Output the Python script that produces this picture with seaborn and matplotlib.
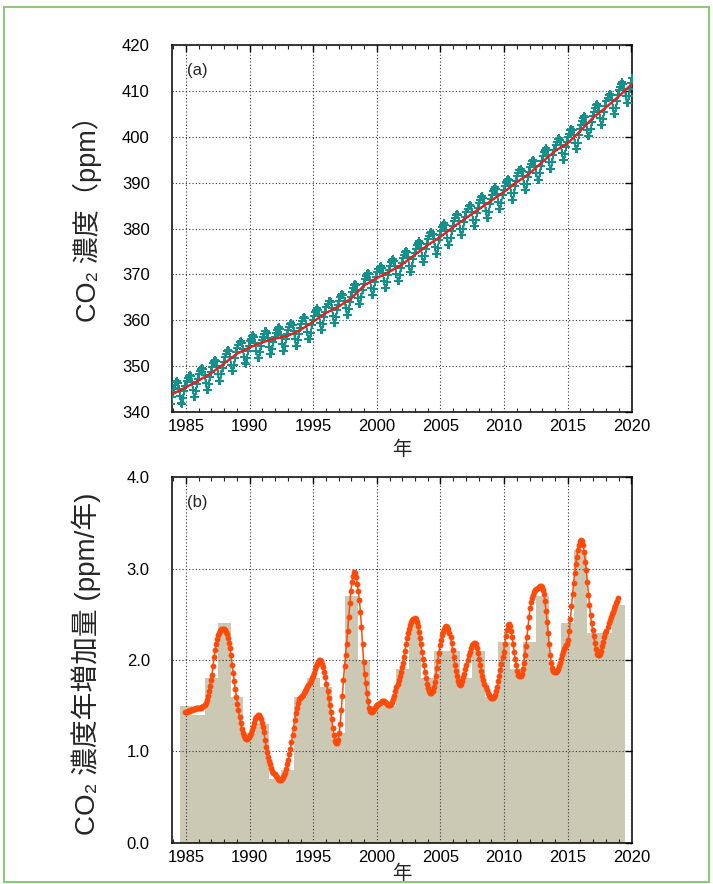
import matplotlib
matplotlib.use("Agg")
import matplotlib.pyplot as plt
from matplotlib.ticker import MultipleLocator, FormatStrFormatter
from matplotlib.patches import Rectangle
import numpy as np
import pandas as pd
import seaborn as sns

# ---------------------------------------------------------------- data
# (a) monthly mean CO2 concentration (ppm); Oct-Dec 1983, full years, Jan 2020
co2_1983_tail = [341.7, 343.2, 344.3]
co2_by_year = {
    1984: [345.3, 346.0, 346.5, 346.7, 346.3, 345.1, 343.4, 341.9, 341.8, 343.1, 344.6, 345.7],
    1985: [346.7, 347.4, 347.9, 348.1, 347.8, 346.6, 344.8, 343.3, 343.3, 344.6, 346.1, 347.2],
    1986: [348.2, 348.9, 349.4, 349.7, 349.3, 348.1, 346.4, 344.9, 344.8, 346.2, 347.7, 348.8],
    1987: [349.8, 350.6, 351.1, 351.4, 351.1, 350.0, 348.2, 346.8, 346.8, 348.2, 349.7, 350.9],
    1988: [351.9, 352.7, 353.2, 353.5, 353.2, 352.1, 350.3, 348.9, 348.9, 350.3, 351.8, 353.0],
    1989: [354.0, 354.7, 355.2, 355.4, 355.0, 353.8, 352.1, 350.6, 350.5, 351.8, 353.3, 354.4],
    1990: [355.4, 356.0, 356.5, 356.7, 356.3, 355.1, 353.3, 351.8, 351.7, 353.0, 354.5, 355.6],
    1991: [356.4, 357.1, 357.6, 357.7, 357.3, 356.1, 354.2, 352.7, 352.6, 353.8, 355.3, 356.4],
    1992: [357.2, 357.9, 358.3, 358.5, 358.0, 356.8, 354.9, 353.4, 353.2, 354.5, 355.9, 357.0],
    1993: [357.9, 358.6, 359.1, 359.3, 358.9, 357.7, 355.9, 354.4, 354.3, 355.6, 357.1, 358.3],
    1994: [359.2, 359.9, 360.5, 360.7, 360.4, 359.2, 357.5, 356.0, 356.0, 357.3, 358.9, 360.0],
    1995: [361.0, 361.7, 362.3, 362.6, 362.2, 361.1, 359.3, 357.9, 357.9, 359.2, 360.8, 361.9],
    1996: [362.9, 363.6, 364.1, 364.3, 363.9, 362.7, 361.0, 359.5, 359.4, 360.7, 362.2, 363.3],
    1997: [364.3, 365.0, 365.6, 365.8, 365.5, 364.3, 362.6, 361.1, 361.1, 362.4, 364.0, 365.1],
    1998: [366.1, 367.0, 367.6, 367.9, 367.7, 366.6, 364.9, 363.6, 363.6, 365.0, 366.7, 367.9],
    1999: [368.9, 369.6, 370.1, 370.4, 370.0, 368.8, 367.1, 365.6, 365.5, 366.9, 368.4, 369.5],
    2000: [370.5, 371.2, 371.7, 371.9, 371.5, 370.3, 368.6, 367.1, 367.0, 368.3, 369.8, 370.9],
    2001: [371.9, 372.6, 373.1, 373.4, 373.0, 371.8, 370.1, 368.6, 368.5, 369.9, 371.4, 372.5],
    2002: [373.5, 374.3, 374.8, 375.1, 374.8, 373.7, 371.9, 370.5, 370.5, 371.9, 373.4, 374.6],
    2003: [375.6, 376.4, 376.9, 377.2, 376.9, 375.8, 374.0, 372.6, 372.6, 374.0, 375.5, 376.7],
    2004: [377.7, 378.4, 379.0, 379.2, 378.9, 377.7, 376.0, 374.5, 374.5, 375.8, 377.4, 378.5],
    2005: [379.5, 380.3, 380.8, 381.1, 380.8, 379.7, 377.9, 376.5, 376.5, 377.9, 379.4, 380.6],
    2006: [381.6, 382.4, 382.9, 383.2, 382.9, 381.7, 380.0, 378.6, 378.5, 379.9, 381.5, 382.6],
    2007: [383.6, 384.3, 384.9, 385.2, 384.8, 383.7, 381.9, 380.5, 380.5, 381.8, 383.4, 384.5],
    2008: [385.5, 386.2, 386.8, 387.1, 386.7, 385.6, 383.8, 382.4, 382.4, 383.7, 385.3, 386.4],
    2009: [387.4, 388.1, 388.7, 389.0, 388.6, 387.5, 385.7, 384.3, 384.3, 385.6, 387.2, 388.3],
    2010: [389.3, 390.1, 390.6, 390.9, 390.6, 389.5, 387.7, 386.3, 386.3, 387.7, 389.2, 390.4],
    2011: [391.4, 392.1, 392.7, 393.0, 392.6, 391.5, 389.7, 388.3, 388.3, 389.6, 391.2, 392.3],
    2012: [393.3, 394.1, 394.7, 395.0, 394.7, 393.7, 392.0, 390.6, 390.6, 392.0, 393.6, 394.8],
    2013: [395.8, 396.6, 397.2, 397.5, 397.2, 396.1, 394.4, 393.0, 393.0, 394.4, 396.0, 397.2],
    2014: [398.2, 398.9, 399.5, 399.7, 399.3, 398.2, 396.4, 395.0, 394.9, 396.3, 397.8, 398.9],
    2015: [399.9, 400.7, 401.4, 401.7, 401.4, 400.3, 398.7, 397.3, 397.3, 398.7, 400.4, 401.6],
    2016: [402.6, 403.5, 404.1, 404.5, 404.2, 403.1, 401.5, 400.1, 400.2, 401.6, 403.2, 404.5],
    2017: [405.5, 406.3, 406.9, 407.1, 406.8, 405.7, 404.0, 402.6, 402.6, 403.9, 405.5, 406.7],
    2018: [407.7, 408.5, 409.1, 409.4, 409.1, 408.0, 406.3, 404.9, 404.9, 406.3, 407.9, 409.1],
    2019: [410.1, 410.9, 411.5, 411.9, 411.6, 410.5, 408.8, 407.4, 407.4, 408.9, 410.5, 411.7],
}
co2_2020_jan = 412.7

# (a) deseasonalized long-term trend (ppm)
trend_years = [1983.5] + list(range(1984, 2021)) + [2020.1]
trend_ppm = [343.3, 344.0, 345.4, 346.9, 348.5, 350.6, 352.7, 354.1, 355.2, 356.0,
             356.6, 357.9, 359.7, 361.6, 363.0, 364.8, 367.6, 369.2, 370.6, 372.2,
             374.3, 376.4, 378.2, 380.3, 382.3, 384.2, 386.1, 388.0, 390.1, 392.0,
             394.5, 396.9, 398.6, 401.3, 404.2, 406.4, 408.8, 411.4, 411.6]

# (b) monthly growth rate (ppm/year); Dec 1984 then full years to 2018
growth_1984_dec = 1.43
growth_by_year = {
    1985: [1.43, 1.44, 1.44, 1.45, 1.45, 1.45, 1.46, 1.46, 1.46, 1.47, 1.47, 1.47],
    1986: [1.47, 1.48, 1.48, 1.49, 1.50, 1.51, 1.53, 1.56, 1.61, 1.66, 1.72, 1.78],
    1987: [1.84, 1.93, 2.03, 2.11, 2.18, 2.23, 2.27, 2.30, 2.32, 2.34, 2.34, 2.34],
    1988: [2.33, 2.31, 2.28, 2.24, 2.19, 2.13, 2.05, 1.95, 1.86, 1.77, 1.68, 1.60],
    1989: [1.52, 1.45, 1.38, 1.31, 1.25, 1.20, 1.17, 1.15, 1.14, 1.14, 1.15, 1.16],
    1990: [1.18, 1.20, 1.23, 1.27, 1.31, 1.35, 1.38, 1.40, 1.40, 1.38, 1.35, 1.31],
    1991: [1.27, 1.21, 1.13, 1.05, 0.99, 0.94, 0.90, 0.86, 0.82, 0.79, 0.77, 0.75],
    1992: [0.73, 0.72, 0.70, 0.69, 0.69, 0.69, 0.70, 0.72, 0.74, 0.77, 0.81, 0.86],
    1993: [0.91, 0.97, 1.03, 1.10, 1.18, 1.26, 1.34, 1.42, 1.48, 1.53, 1.57, 1.59],
    1994: [1.60, 1.61, 1.62, 1.64, 1.66, 1.68, 1.70, 1.73, 1.75, 1.77, 1.80, 1.83],
    1995: [1.86, 1.90, 1.93, 1.96, 1.98, 2.00, 2.00, 1.99, 1.96, 1.92, 1.87, 1.81],
    1996: [1.74, 1.66, 1.58, 1.51, 1.43, 1.35, 1.26, 1.18, 1.12, 1.09, 1.09, 1.13],
    1997: [1.20, 1.30, 1.45, 1.61, 1.78, 1.93, 2.06, 2.18, 2.32, 2.47, 2.62, 2.75],
    1998: [2.85, 2.92, 2.96, 2.95, 2.91, 2.83, 2.75, 2.66, 2.53, 2.36, 2.17, 1.98],
    1999: [1.85, 1.75, 1.64, 1.55, 1.48, 1.44, 1.43, 1.43, 1.44, 1.46, 1.48, 1.50],
    2000: [1.51, 1.52, 1.53, 1.54, 1.55, 1.55, 1.55, 1.54, 1.53, 1.52, 1.51, 1.51],
    2001: [1.51, 1.52, 1.54, 1.57, 1.61, 1.66, 1.70, 1.74, 1.78, 1.82, 1.87, 1.92],
    2002: [1.97, 2.03, 2.10, 2.17, 2.24, 2.29, 2.34, 2.38, 2.41, 2.44, 2.45, 2.46],
    2003: [2.45, 2.42, 2.37, 2.31, 2.24, 2.17, 2.09, 2.01, 1.94, 1.87, 1.80, 1.74],
    2004: [1.69, 1.66, 1.64, 1.64, 1.66, 1.70, 1.76, 1.83, 1.91, 1.99, 2.08, 2.16],
    2005: [2.22, 2.27, 2.31, 2.34, 2.36, 2.37, 2.36, 2.34, 2.30, 2.25, 2.19, 2.11],
    2006: [2.03, 1.95, 1.88, 1.82, 1.77, 1.74, 1.73, 1.74, 1.77, 1.81, 1.85, 1.90],
    2007: [1.95, 2.00, 2.05, 2.09, 2.13, 2.16, 2.18, 2.19, 2.19, 2.17, 2.13, 2.08],
    2008: [2.01, 1.94, 1.88, 1.83, 1.78, 1.74, 1.70, 1.67, 1.64, 1.62, 1.60, 1.59],
    2009: [1.58, 1.58, 1.60, 1.62, 1.66, 1.71, 1.77, 1.83, 1.89, 1.96, 2.03, 2.09],
    2010: [2.17, 2.26, 2.33, 2.38, 2.39, 2.37, 2.32, 2.25, 2.17, 2.09, 2.01, 1.94],
    2011: [1.88, 1.84, 1.82, 1.82, 1.85, 1.90, 1.97, 2.06, 2.15, 2.25, 2.36, 2.47],
    2012: [2.57, 2.63, 2.68, 2.71, 2.74, 2.76, 2.78, 2.79, 2.80, 2.81, 2.81, 2.80],
    2013: [2.77, 2.72, 2.64, 2.54, 2.42, 2.29, 2.17, 2.06, 1.97, 1.91, 1.88, 1.87],
    2014: [1.87, 1.88, 1.90, 1.93, 1.97, 2.01, 2.05, 2.09, 2.12, 2.14, 2.16, 2.18],
    2015: [2.22, 2.32, 2.45, 2.59, 2.72, 2.84, 2.95, 3.05, 3.13, 3.20, 3.26, 3.30],
    2016: [3.31, 3.30, 3.26, 3.18, 3.07, 2.98, 2.85, 2.71, 2.60, 2.49, 2.40, 2.33],
    2017: [2.26, 2.19, 2.12, 2.07, 2.05, 2.05, 2.07, 2.10, 2.15, 2.20, 2.25, 2.29],
    2018: [2.32, 2.36, 2.40, 2.44, 2.47, 2.50, 2.53, 2.56, 2.59, 2.62, 2.65, 2.68],
}

# (b) annual growth (ppm/year)
bar_years = list(range(1985, 2020))
bar_values = [1.5, 1.4, 1.8, 2.4, 1.6, 1.2, 1.3, 0.7, 0.8, 1.6,
              1.8, 1.7, 1.2, 2.7, 2.0, 1.5, 1.5, 1.9, 2.4, 1.8,
              2.1, 2.1, 1.8, 2.1, 1.6, 2.2, 1.9, 2.2, 2.7, 1.9,
              2.4, 3.2, 2.3, 2.3, 2.6]

x_ticks = [1985, 1990, 1995, 2000, 2005, 2010, 2015, 2020]


# ---------------------------------------------------------------- tables
def month_frame(first, by_year, last=None):
    """Monthly values placed at mid-month (decimal year)."""
    rows = []
    first_year, first_month, first_vals = first
    for k, v in enumerate(first_vals):
        rows.append((first_year + (first_month + k - 0.5) / 12.0, v))
    for yr, vals in by_year.items():
        for m, v in enumerate(vals, start=1):
            rows.append((yr + (m - 0.5) / 12.0, v))
    if last is not None:
        yr, m, v = last
        rows.append((yr + (m - 0.5) / 12.0, v))
    return pd.DataFrame(rows, columns=["year", "value"])


co2_df = month_frame((1983, 10, co2_1983_tail), co2_by_year, (2020, 1, co2_2020_jan))
trend_df = pd.DataFrame({"year": trend_years, "value": trend_ppm})
growth_df = month_frame((1984, 12, [growth_1984_dec]), growth_by_year)
bars_df = pd.DataFrame({"year": bar_years, "value": bar_values})

# ---------------------------------------------------------------- style
sns.set_theme(style="white")
plt.rcParams["font.family"] = ["Liberation Sans", "Noto Sans CJK JP", "DejaVu Sans"]
plt.rcParams["axes.unicode_minus"] = False

TEAL = "#12918d"
RED = "#ee1c1c"
ORANGE = "#ff4a0a"
BAR = "#cbc9b3"
GRID = dict(color="#333333", linestyle=(0, (1, 2)), linewidth=0.8)

fig = plt.figure(figsize=(7.13, 8.84), dpi=100)
ax1 = fig.add_axes([0.2412, 0.5339, 0.6452, 0.4152])
ax2 = fig.add_axes([0.2412, 0.0464, 0.6452, 0.4140])

X_LIM = (1983.9, 2020.05)


def frame_axes(ax):
    ax.set_xlim(*X_LIM)
    ax.set_xticks(x_ticks)
    ax.xaxis.set_minor_locator(MultipleLocator(1))
    ax.grid(True, which="major", **GRID)
    ax.set_axisbelow(False)
    ax.tick_params(which="major", direction="in", top=True, right=True,
                   length=5, width=1.0, labelsize=12, color="black",
                   labelcolor="black")
    ax.tick_params(axis="x", which="major", pad=5)
    ax.tick_params(axis="y", which="major", pad=16)
    ax.tick_params(which="minor", axis="x", direction="in", top=True,
                   bottom=True, length=3, width=0.8)
    for s in ax.spines.values():
        s.set_color("black")
        s.set_linewidth(1.1)
        s.set_visible(True)


# ---------------------------------------------------------------- (a)
sns.lineplot(data=co2_df, x="year", y="value", ax=ax1, color=TEAL,
             linewidth=1.1, marker="P", markersize=5.2, markeredgewidth=0,
             estimator=None, sort=False, zorder=3)
sns.lineplot(data=trend_df, x="year", y="value", ax=ax1, color=RED,
             linewidth=1.7, estimator=None, sort=False, zorder=4)
ax1.set_ylim(340, 420)
ax1.yaxis.set_major_locator(MultipleLocator(10))
frame_axes(ax1)
ax1.set_xlabel("年", fontsize=14, labelpad=5)
ax1.set_ylabel("CO\u2082 濃度（ppm）", fontsize=19.5)
ax1.yaxis.set_label_coords(-0.152, 0.545)
ax1.text(0.033, 0.93, "(a)", transform=ax1.transAxes, fontsize=12,
         ha="left", va="center")

# ---------------------------------------------------------------- (b)
ax2.bar(bars_df["year"], bars_df["value"], width=1.0, align="center",
        color=BAR, edgecolor="none", zorder=1)
sns.lineplot(data=growth_df, x="year", y="value", ax=ax2, color=ORANGE,
             linewidth=1.1, marker="o", markersize=4.2, markeredgewidth=0,
             estimator=None, sort=False, zorder=4)
ax2.set_ylim(0, 4.0)
ax2.yaxis.set_major_locator(MultipleLocator(1.0))
ax2.yaxis.set_major_formatter(FormatStrFormatter("%.1f"))
frame_axes(ax2)
ax2.set_xlabel("年", fontsize=14, labelpad=0)
ax2.set_ylabel("CO\u2082 濃度年増加量 (ppm/年)", fontsize=20)
ax2.yaxis.set_label_coords(-0.155, 0.49)
ax2.text(0.033, 0.93, "(b)", transform=ax2.transAxes, fontsize=12,
         ha="left", va="center")

# outer frame of the figure
fig.patches.append(Rectangle((0.006, 0.002), 0.988, 0.99,
                             transform=fig.transFigure, fill=False,
                             edgecolor="#8cca78", linewidth=1.5))

fig.savefig("out.png", dpi=100, facecolor="white")
